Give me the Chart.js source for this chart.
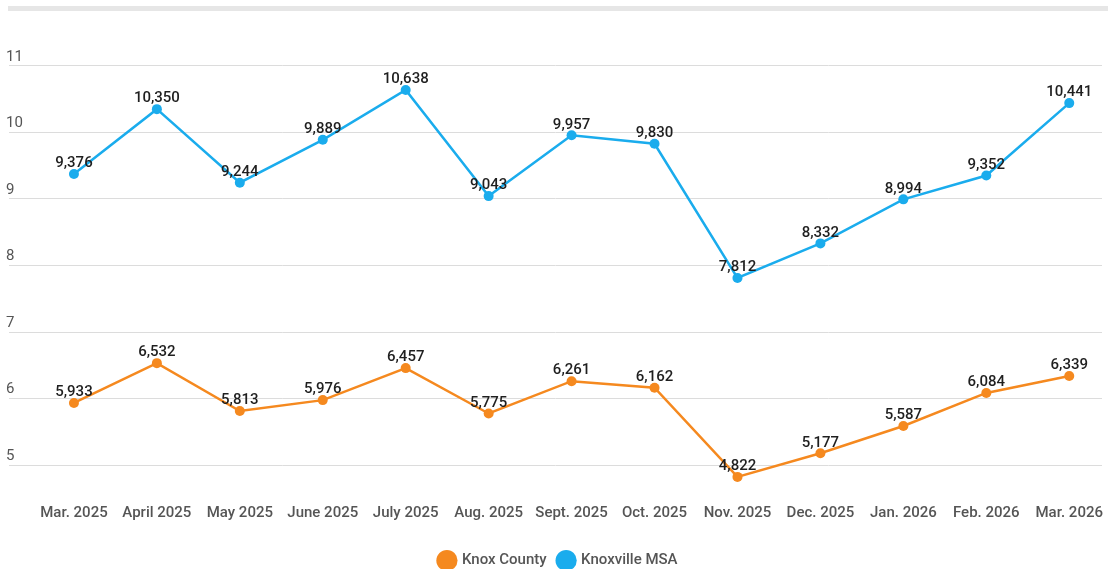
<!DOCTYPE html>
<html>
<head>
<meta charset="utf-8">
<script src="https://cdn.jsdelivr.net/npm/chart.js@4.4.0/dist/chart.umd.min.js"></script>
<style>
    body { margin: 0; overflow: hidden; background: #fff; }
    #topBar { position: absolute; left: 8px; top: 6px; width: 1100px; height: 5px; background: #e6e6e6; }
    #wrap { position: absolute; left: 0; top: 0; width: 1108px; height: 578px; }
</style>
</head>
<body>
<div id="topBar"></div>
<div id="wrap"><canvas id="myChart"></canvas></div>
<script>
const months = ['Mar. 2025', 'April 2025', 'May 2025', 'June 2025', 'July 2025', 'Aug. 2025',
    'Sept. 2025', 'Oct. 2025', 'Nov. 2025', 'Dec. 2025', 'Jan. 2026', 'Feb. 2026', 'Mar. 2026'];
const knoxCounty = [5933, 6532, 5813, 5976, 6457, 5775, 6261, 6162, 4822, 5177, 5587, 6084, 6339];
const knoxvilleMSA = [9376, 10350, 9244, 9889, 10638, 9043, 9957, 9830, 7812, 8332, 8994, 9352, 10441];
const yTicks = [5000, 6000, 7000, 8000, 9000, 10000, 11000];

const toPoints = arr => arr.map((v, i) => ({ x: i, y: v }));

// draws the numbers above each point
const valueLabels = {
    id: 'valueLabels',
    afterDatasetsDraw(chart) {
        const c = chart.ctx;
        c.save();
        c.font = '500 15px Roboto';
        c.fillStyle = '#1f1f1f';
        c.textAlign = 'center';
        c.textBaseline = 'bottom';
        chart.data.datasets.forEach((ds, di) => {
            chart.getDatasetMeta(di).data.forEach((pt, i) => {
                c.fillText(ds.data[i].y.toLocaleString('en-US'), pt.x, pt.y - 3);
            });
        });
        c.restore();
    }
};

window.onload = function() {
    const ctx = document.getElementById('myChart');

    new Chart(ctx, {
        type: 'line',
        data: {
            datasets: [{
                label: 'Knox County',
                data: toPoints(knoxCounty),
                borderColor: '#f5891f',
                backgroundColor: '#f5891f',
                borderWidth: 2.5,
                pointRadius: 5,
                pointHoverRadius: 6,
                pointBorderWidth: 0
            }, {
                label: 'Knoxville MSA',
                data: toPoints(knoxvilleMSA),
                borderColor: '#1aaced',
                backgroundColor: '#1aaced',
                borderWidth: 2.5,
                pointRadius: 5,
                pointHoverRadius: 6,
                pointBorderWidth: 0
            }]
        },
        options: {
            responsive: true,
            maintainAspectRatio: false,
            animation: false,
            layout: { padding: { top: 30, left: 9, right: 0, bottom: 0 } },
            scales: {
                x: {
                    type: 'linear',
                    min: -0.783,
                    max: 12.395,
                    afterBuildTicks: function(scale) {
                        scale.ticks = months.map((m, i) => ({ value: i }));
                    },
                    afterFit: function(scale) {
                        scale.height = 56;
                        scale.paddingLeft = 0;
                        scale.paddingRight = 0;
                    },
                    grid: { display: false },
                    border: { display: false },
                    ticks: {
                        padding: 11,
                        maxRotation: 0,
                        autoSkip: false,
                        color: '#555',
                        font: { family: 'Roboto', size: 15, weight: '500' },
                        callback: function(value) {
                            return months[value];
                        }
                    }
                },
                y: {
                    min: 4700,
                    max: 11540,
                    afterBuildTicks: function(scale) {
                        scale.ticks = yTicks.map(v => ({ value: v }));
                    },
                    afterFit: function(scale) {
                        scale.paddingTop = 0;
                        scale.paddingBottom = 0;
                    },
                    grid: { color: '#dcdcdc', drawTicks: false },
                    border: { display: false },
                    ticks: {
                        mirror: true,
                        padding: -1,
                        labelOffset: -9,
                        color: '#555',
                        font: { family: 'Roboto', size: 15 },
                        callback: function(value) {
                            return value / 1000;
                        }
                    }
                }
            },
            plugins: {
                legend: {
                    position: 'bottom',
                    labels: {
                        usePointStyle: true,
                        pointStyle: 'circle',
                        boxWidth: 16,
                        boxHeight: 16,
                        padding: 12,
                        color: '#555',
                        font: { family: 'Roboto', size: 15, weight: '500' }
                    }
                },
                tooltip: { enabled: true }
            }
        },
        plugins: [valueLabels]
    });
}
</script>
</body>
</html>
